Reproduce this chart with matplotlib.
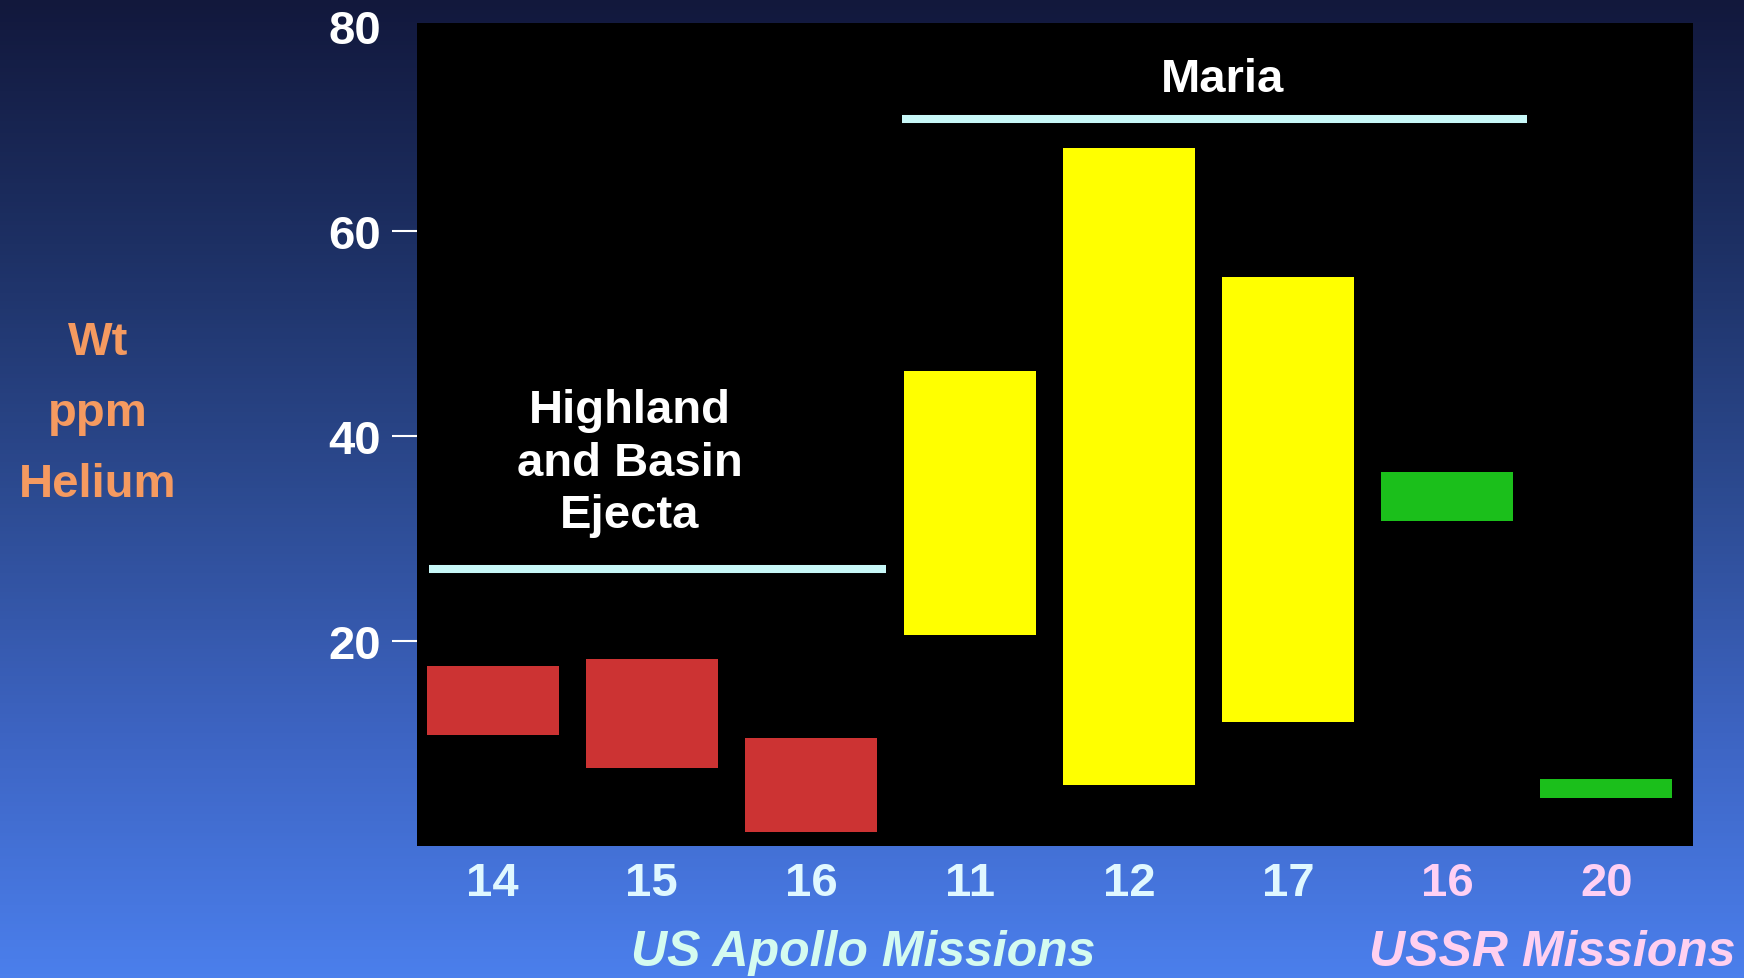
import numpy as np
import matplotlib
matplotlib.use("Agg")
import matplotlib.pyplot as plt
from matplotlib.colors import LinearSegmentedColormap

# Helium ranges (wt ppm) measured in soils from each mission
missions = ["14", "15", "16", "11", "12", "17", "16", "20"]
he_low = [10.8, 7.6, 1.4, 20.6, 6.0, 12.1, 31.7, 4.7]
he_high = [17.6, 18.2, 10.5, 46.3, 68.1, 55.5, 36.5, 6.5]
bar_colors = ["#cc3333", "#cc3333", "#cc3333",
              "#ffff00", "#ffff00", "#ffff00",
              "#1bbf1b", "#1bbf1b"]
label_colors = ["#e0f8ff"] * 6 + ["#ffd0f4"] * 2

# terrain groups: (first bar, last bar)
highland = (0, 2)
maria = (3, 6)

plt.rcParams["font.family"] = ["Liberation Sans", "DejaVu Sans"]
plt.rcParams["font.weight"] = "bold"

fig = plt.figure(figsize=(17.44, 9.79), dpi=100)

# slide background: dark navy at the top fading to bright blue
bg = fig.add_axes([0, 0, 1, 1], zorder=-10)
cmap = LinearSegmentedColormap.from_list(
    "slide", ["#12183c", "#1d3064", "#2c4a90", "#3d64c2", "#4b7fec"])
grad = np.linspace(0, 1, 256).reshape(-1, 1)
bg.imshow(grad, aspect="auto", cmap=cmap, extent=[0, 1, 0, 1], origin="upper")
bg.axis("off")

ax = fig.add_axes([0.2391, 0.1348, 0.7317, 0.8407])
ax.set_facecolor("black")
for s in ax.spines.values():
    s.set_visible(False)

x = np.arange(len(missions))
heights = np.array(he_high) - np.array(he_low)
ax.bar(x, heights, bottom=he_low, width=0.83, color=bar_colors, zorder=2)

# group bars
line_color = "#c8f8f8"
ax.plot([highland[0] - 0.40, highland[1] + 0.47], [27.0, 27.0],
        color=line_color, lw=5.8, solid_capstyle="butt", zorder=3)
ax.plot([maria[0] - 0.43, maria[1] + 0.50], [70.9, 70.9],
        color=line_color, lw=5.8, solid_capstyle="butt", zorder=3)
ax.text(0.86, 37.4, "Highland\nand Basin\nEjecta", color="white",
        fontsize=34, fontweight="bold", ha="center", va="center",
        linespacing=1.25)
ax.text(4.59, 74.8, "Maria", color="white", fontsize=34,
        fontweight="bold", ha="center", va="center")

ax.set_xlim(-0.476, 7.545)
ax.set_ylim(0, 80.3)

ax.set_xticks(x)
ax.set_xticklabels(missions, fontsize=34, fontweight="bold")
for lab, c in zip(ax.get_xticklabels(), label_colors):
    lab.set_color(c)
ax.tick_params(axis="x", length=0, pad=11)

ax.set_yticks([20, 40, 60, 80])
ax.set_yticklabels(["20", "40", "60", "80"], fontsize=34, fontweight="bold",
                   color="white")
ax.tick_params(axis="y", length=18, width=1.5, color="white", pad=8)
ax.yaxis.get_major_ticks()[-1].tick1line.set_visible(False)

# y-axis title
for txt, yy in [("Wt", 343), ("ppm", 414), ("Helium", 485)]:
    fig.text(98 / 1744, 1 - yy / 979, txt, color="#f59a60", fontsize=34,
             fontweight="bold", ha="center", va="center")

fig.text(863 / 1744, 1 - 953 / 979, "US Apollo Missions", color="#d4fbf0",
         fontsize=36, fontweight="bold", style="italic",
         ha="center", va="center")
fig.text(1552 / 1744, 1 - 953 / 979, "USSR Missions", color="#ffd0f0",
         fontsize=36, fontweight="bold", style="italic",
         ha="center", va="center")

fig.savefig("out.png", dpi=100)
